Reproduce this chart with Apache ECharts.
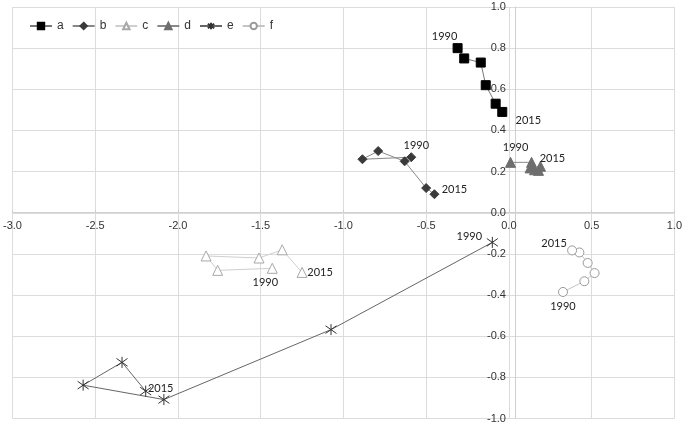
<!DOCTYPE html>
<html>
<head>
<meta charset="utf-8">
<script src="https://cdn.jsdelivr.net/npm/echarts@6/dist/echarts.min.js"></script>
<style>html,body{margin:0;padding:0;background:#fff}#c{width:685px;height:424px}</style>
</head>
<body>
<div id="c"></div>
<script>
const seriesNames = ['a', 'b', 'c', 'd', 'e', 'f'];
const yearLabels = ['1990', '2015'];
const xTicks = [-3.0, -2.5, -2.0, -1.5, -1.0, -0.5, 0.0, 0.5, 1.0];
const yTicks = [-1.0, -0.8, -0.6, -0.4, -0.2, 0.0, 0.2, 0.4, 0.6, 0.8, 1.0];

const dataA = [[-0.31, 0.80], [-0.27, 0.75], [-0.17, 0.73], [-0.14, 0.62], [-0.08, 0.53], [-0.04, 0.49]];
const dataB = [[-0.59, 0.27], [-0.885, 0.26], [-0.79, 0.30], [-0.63, 0.25], [-0.50, 0.12], [-0.45, 0.09]];
const dataC = [[-1.43, -0.27], [-1.76, -0.28], [-1.83, -0.21], [-1.51, -0.22], [-1.37, -0.18], [-1.25, -0.29]];
const dataD = [[0.01, 0.245], [0.137, 0.245], [0.128, 0.218], [0.155, 0.209], [0.179, 0.206], [0.191, 0.226]];
const dataE = [[-0.10, -0.144], [-1.075, -0.568], [-2.085, -0.908], [-2.573, -0.838], [-2.338, -0.727], [-2.195, -0.867]];
const dataF = [[0.327, -0.385], [0.456, -0.333], [0.518, -0.293], [0.476, -0.244], [0.426, -0.193], [0.382, -0.183]];

const allData = [dataA, dataB, dataC, dataD, dataE, dataF];

const W = 685, H = 424;
const gridL = 9, gridR = 6, gridT = 7, gridB = 5;
const plotW = W - gridL - gridR, plotH = H - gridT - gridB;
// move axes onto the zero lines
const xAxisOffset = -plotH * (0 - yTicks[0]) / (yTicks[yTicks.length - 1] - yTicks[0]);
const yAxisOffset = -plotW * (0 - xTicks[0]) / (xTicks[xTicks.length - 1] - xTicks[0]);

const styles = [
  {symbol: 'rect', size: 9, color: '#000', border: '#000', line: '#777', lw: 1},
  {symbol: 'diamond', size: 9, color: '#3a3a3a', border: '#3a3a3a', line: '#888', lw: 1},
  {symbol: 'triangle', size: 10, color: '#fff', border: '#a8a8a8', line: '#cfcfcf', lw: 1},
  {symbol: 'triangle', size: 10, color: '#6e6e6e', border: '#6e6e6e', line: '#888', lw: 1},
  {symbol: 'path://M5 0L5 10M0.8 1.5L9.2 8.5M9.2 1.5L0.8 8.5', size: 11, color: 'rgba(0,0,0,0)', border: '#333', line: '#666', lw: 1},
  {symbol: 'circle', size: 9, color: '#fff', border: '#9a9a9a', line: '#c4c4c4', lw: 1}
];
const labelOffsets = [
  [[-13, -12], [26, 9]],
  [[5, -12], [20, -5]],
  [[-7, 14], [18, 0]],
  [[5, -15], [12, -8]],
  [[-23, -6], [15, -3]],
  [[0, 14], [-18, -7]]
];

const series = allData.map((d, i) => {
  const st = styles[i];
  return {
    name: seriesNames[i],
    type: 'line',
    symbol: st.symbol,
    symbolSize: st.size,
    showAllSymbol: true,
    animation: false,
    lineStyle: {color: st.line, width: st.lw},
    itemStyle: {color: st.color, borderColor: st.border, borderWidth: 1},
    data: d.map((p, j) => {
      const item = {value: p};
      if (j === 0 || j === d.length - 1) {
        const k = j === 0 ? 0 : 1;
        item.label = {
          show: true,
          position: 'inside',
          offset: labelOffsets[i][k],
          formatter: yearLabels[k],
          color: '#222',
          fontSize: 11,
          fontFamily: 'Lato, "Liberation Sans", sans-serif'
        };
      }
      return item;
    }),
    emphasis: {disabled: true}
  };
});

const chart = echarts.init(document.getElementById('c'), null, {renderer: 'canvas'});
chart.setOption({
  animation: false,
  backgroundColor: '#fff',
  legend: {
    left: 24, top: 15,
    itemWidth: 22, itemHeight: 8, itemGap: 8,
    textStyle: {fontSize: 12, color: '#333', fontFamily: '"Liberation Sans", Arial, sans-serif'},
    data: seriesNames
  },
  grid: {left: gridL, right: gridR, top: gridT, bottom: gridB, containLabel: false},
  xAxis: {
    type: 'value', min: xTicks[0], max: xTicks[xTicks.length - 1], interval: 0.5,
    position: 'bottom', offset: xAxisOffset,
    axisLine: {show: true, onZero: false, lineStyle: {color: '#cfcfcf'}},
    axisTick: {show: true, length: 3, inside: true, lineStyle: {color: '#cfcfcf'}},
    axisLabel: {margin: 8, fontSize: 11, color: '#333', fontFamily: '"Liberation Sans", Arial, sans-serif',
      formatter: v => v.toFixed(1)},
    splitLine: {show: true, lineStyle: {color: '#dcdcdc'}}
  },
  yAxis: {
    type: 'value', min: yTicks[0], max: yTicks[yTicks.length - 1], interval: 0.2,
    position: 'left', offset: yAxisOffset,
    axisLine: {show: true, onZero: false, lineStyle: {color: '#cfcfcf'}},
    axisTick: {show: false},
    axisLabel: {margin: 9, fontSize: 11, color: '#333', fontFamily: '"Liberation Sans", Arial, sans-serif',
      formatter: v => v.toFixed(1)},
    splitLine: {show: true, lineStyle: {color: '#dcdcdc'}}
  },
  series: series
});
</script>
</body>
</html>
